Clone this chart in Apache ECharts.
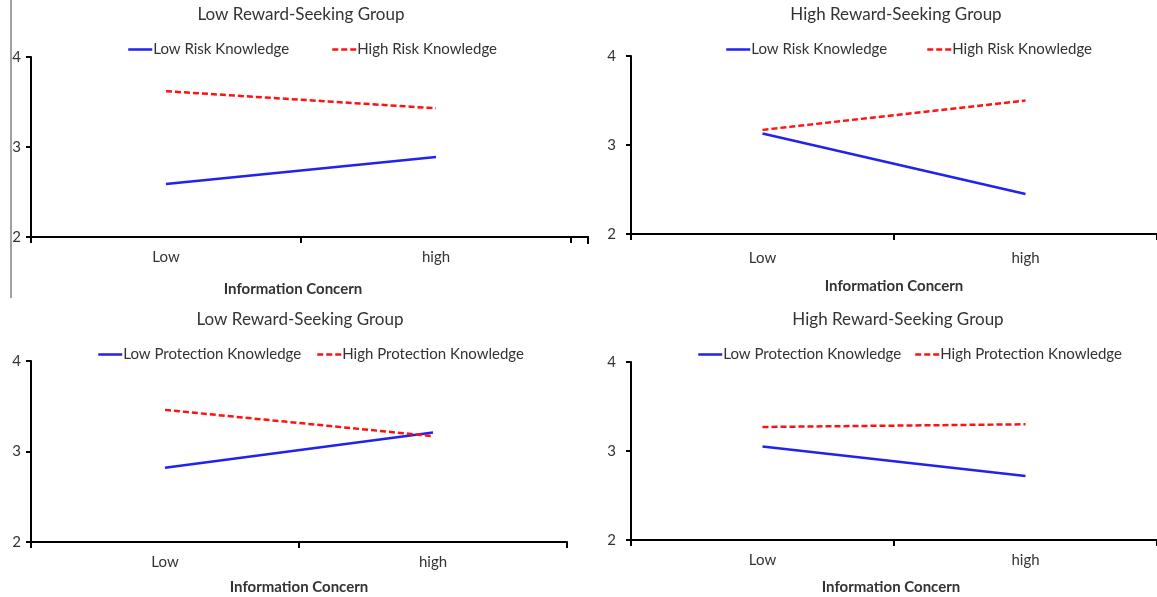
<!DOCTYPE html>
<html>
<head>
<meta charset="utf-8">
<script src="https://cdn.jsdelivr.net/npm/echarts@6/dist/echarts.min.js"></script>
<style>html,body{margin:0;padding:0;background:#fff}#c{width:1157px;height:597px}</style>
</head>
<body>
<div id="c"></div>
<script>
// ---- data ----
const categories = ['Low', 'high'];
const yTicks = [2, 3, 4];
const panelTitles = ['Low Reward-Seeking Group', 'High Reward-Seeking Group', 'Low Reward-Seeking Group', 'High Reward-Seeking Group'];
const xAxisTitle = 'Information Concern';
const riskNames = ['Low Risk Knowledge', 'High Risk Knowledge'];
const protNames = ['Low Protection Knowledge', 'High Protection Knowledge'];
// panel 1: low reward-seeking, risk knowledge
const p1Low = [2.59, 2.89];
const p1High = [3.62, 3.43];
// panel 2: high reward-seeking, risk knowledge
const p2Low = [3.13, 2.45];
const p2High = [3.17, 3.50];
// panel 3: low reward-seeking, protection knowledge
const p3Low = [2.82, 3.21];
const p3High = [3.46, 3.17];
// panel 4: high reward-seeking, protection knowledge
const p4Low = [3.05, 2.72];
const p4High = [3.27, 3.30];

// ---- layout ----
const FONT = 'Lato, "Open Sans", sans-serif';
const TXT = '#333';
const BLUE = '#2222ee';
const RED = '#ff1111';
const grids = [
  {left: 31, top: 57, width: 540, height: 180},
  {left: 631, top: 56, width: 530, height: 178},
  {left: 31, top: 361, width: 536, height: 181},
  {left: 631, top: 362, width: 533, height: 178}
];
const titlePos = [[301, 6], [896, 6], [300, 311], [898, 311]];
const labelMargin = [13, 17, 13, 13];
const nameGap = [45, 45, 38, 40];
const namePad = [[0, 16, 0, 0], 0, 0, [0, 6, 0, 0]];
const yLabelMargin = [10, 15, 10, 15];
const legendPos = [
  [[127, 42], [331, 42]],
  [[725, 42], [926, 42]],
  [[97, 347], [316, 347]],
  [[697, 347], [914, 347]]
];
const names = [riskNames, riskNames, protNames, protNames];
const dataLow = [p1Low, p2Low, p3Low, p4Low];
const dataHigh = [p1High, p2High, p3High, p4High];

const option = {
  animation: false,
  backgroundColor: '#fff',
  title: [], legend: [], grid: [], xAxis: [], yAxis: [], series: [],
  graphic: []
};

for (let i = 0; i < 4; i++) {
  option.title.push({
    text: panelTitles[i], left: titlePos[i][0], top: titlePos[i][1], textAlign: 'center', padding: 0,
    textStyle: {fontFamily: FONT, fontSize: 17, fontWeight: 'normal', color: TXT}
  });
  option.grid.push(grids[i]);
  option.xAxis.push({
    type: 'category', gridIndex: i, data: categories, boundaryGap: true,
    name: xAxisTitle, nameLocation: 'middle', nameGap: nameGap[i],
    nameTextStyle: {fontFamily: FONT, fontSize: 15, fontWeight: 'bold', color: TXT, padding: namePad[i]},
    axisLine: {lineStyle: {color: '#000', width: 2}},
    axisTick: {show: true, length: 6, lineStyle: {color: '#000', width: 2}},
    axisLabel: {fontFamily: FONT, fontSize: 15, color: TXT, margin: labelMargin[i]},
    splitLine: {show: false}
  });
  option.yAxis.push({
    type: 'value', gridIndex: i, min: yTicks[0], max: yTicks[yTicks.length - 1], interval: 1,
    axisLine: {show: true, lineStyle: {color: '#000', width: 2}},
    axisTick: {show: true, length: 5, lineStyle: {color: '#000', width: 2}},
    axisLabel: {fontFamily: FONT, fontSize: 15, color: TXT, margin: yLabelMargin[i]},
    splitLine: {show: false}
  });
  option.series.push({
    type: 'line', name: names[i][0], xAxisIndex: i, yAxisIndex: i, data: dataLow[i],
    symbol: 'none', lineStyle: {color: BLUE, width: 2.5}, itemStyle: {color: BLUE}
  });
  option.series.push({
    type: 'line', name: names[i][1], xAxisIndex: i, yAxisIndex: i, data: dataHigh[i],
    symbol: 'none', lineStyle: {color: RED, width: 2.5, type: [6, 3]}, itemStyle: {color: RED}
  });
  for (let k = 0; k < 2; k++) {
    option.legend.push({
      data: [names[i][k]], left: legendPos[i][k][0], top: legendPos[i][k][1], padding: 0,
      itemWidth: 24, itemHeight: 14, itemGap: 0, selectedMode: false,
      itemStyle: {opacity: 0},
      lineStyle: {width: 2.5},
      textStyle: {fontFamily: FONT, fontSize: 15, color: TXT, padding: [0, 0, 0, -4]}
    });
  }
}

// decorations: left border line of the first panel and extension of its x axis
option.graphic.push({type: 'line', shape: {x1: 11, y1: 0, x2: 11, y2: 298}, style: {stroke: '#444', lineWidth: 1}});
option.graphic.push({type: 'polyline', shape: {points: [[571, 237], [588, 237], [588, 244]]}, style: {stroke: '#000', lineWidth: 2, fill: null}});

const chart = echarts.init(document.getElementById('c'), null, {renderer: 'canvas'});
chart.setOption(option);
</script>
</body>
</html>
